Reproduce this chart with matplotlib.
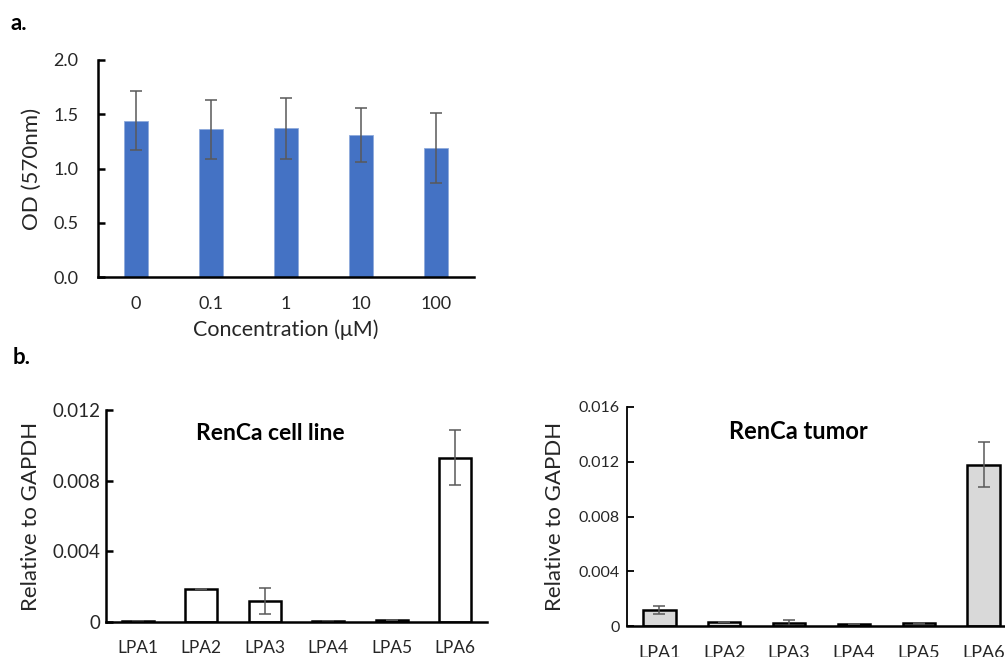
import matplotlib
matplotlib.use("Agg")
import matplotlib.pyplot as plt
import numpy as np

plt.rcParams['font.family'] = ['Lato', 'DejaVu Sans']

# Panel a data
conc_labels = ["0", "0.1", "1", "10", "100"]
od_values = [1.44, 1.36, 1.37, 1.31, 1.19]
od_errors = [0.27, 0.27, 0.28, 0.25, 0.32]

# Panel b data
lpa_labels = ["LPA1", "LPA2", "LPA3", "LPA4", "LPA5", "LPA6"]
cell_values = [0.00005, 0.00188, 0.00119, 0.00003, 0.0001, 0.0093]
cell_errors = [0.0, 0.0, 0.00075, 0.0, 0.0, 0.00154]
tumor_values = [0.00115, 0.00029, 0.00022, 0.00012, 0.0002, 0.01177]
tumor_errors = [0.0003, 0.0, 0.00025, 0.0, 0.00005, 0.00165]

W, H = 1005, 657
fig = plt.figure(figsize=(W / 100, H / 100), dpi=100)
TXT = '#262626'

def ax_px(left, right, top, bottom):
    return fig.add_axes([left / W, 1 - bottom / H, (right - left) / W, (bottom - top) / H])

def style(ax, lw):
    for s in ['top', 'right']:
        ax.spines[s].set_visible(False)
    for s in ['left', 'bottom']:
        ax.spines[s].set_linewidth(lw)
        ax.spines[s].set_color('black')
    ax.tick_params(axis='y', direction='in', length=5, width=lw)
    ax.tick_params(axis='x', length=0)

err_kw = dict(ecolor='#595959', elinewidth=1.1, capsize=4, capthick=1.1)

# ---- Panel a ----
axa = ax_px(98, 474, 60, 277)
x = np.arange(len(conc_labels))
axa.bar(x, od_values, width=0.32, color='#4472C4', edgecolor='#8faadc', linewidth=0.6,
        yerr=od_errors, error_kw=err_kw)
axa.set_xlim(-0.5, 4.5)
axa.set_ylim(0, 2.0)
axa.set_yticks([0.0, 0.5, 1.0, 1.5, 2.0])
axa.set_yticklabels(["0.0", "0.5", "1.0", "1.5", "2.0"], fontsize=13, color=TXT)
axa.set_xticks(x)
axa.set_xticklabels(conc_labels, fontsize=13, color=TXT)
style(axa, 1.8)
axa.tick_params(axis='x', pad=14)
axa.tick_params(axis='y', pad=14)
axa.set_xlabel("Concentration (\u03bcM)", fontsize=15.5, color=TXT, labelpad=5)
axa.set_ylabel("OD (570nm)", fontsize=16, color=TXT, labelpad=8)

# ---- Panel b left ----
axb1 = ax_px(106, 487, 410, 622)
x6 = np.arange(len(lpa_labels))
axb1.bar(x6, cell_values, width=0.5, color='white', edgecolor='black', linewidth=1.8,
         yerr=cell_errors, error_kw=err_kw)
axb1.set_xlim(-0.5, 5.5)
axb1.set_ylim(0, 0.012)
axb1.set_yticks([0, 0.004, 0.008, 0.012])
axb1.set_yticklabels(["0", "0.004", "0.008", "0.012"], fontsize=13.5, color=TXT)
axb1.set_xticks(x6)
axb1.set_xticklabels(lpa_labels, fontsize=12.5, color=TXT)
style(axb1, 1.8)
axb1.tick_params(axis='x', pad=13)
axb1.tick_params(axis='y', pad=4)
axb1.set_ylabel("Relative to GAPDH", fontsize=16, color=TXT, labelpad=8)
axb1.text(0.43, 0.89, "RenCa cell line", transform=axb1.transAxes, fontsize=16.5,
          fontweight='bold', ha='center', va='center')

# ---- Panel b right ----
axb2 = ax_px(627, 1016, 407, 626)
axb2.bar(x6, tumor_values, width=0.5, color='#d9d9d9', edgecolor='black', linewidth=1.8,
         yerr=tumor_errors, error_kw=err_kw)
axb2.set_xlim(-0.5, 5.5)
axb2.set_ylim(0, 0.016)
axb2.set_yticks([0, 0.004, 0.008, 0.012, 0.016])
axb2.set_yticklabels(["0", "0.004", "0.008", "0.012", "0.016"], fontsize=11.5, color=TXT)
axb2.set_xticks(x6)
axb2.set_xticklabels(lpa_labels, fontsize=13, color=TXT)
style(axb2, 1.3)
axb2.spines['bottom'].set_linewidth(1.8)
axb2.tick_params(axis='x', pad=14)
axb2.tick_params(axis='y', pad=5)
axb2.set_ylabel("Relative to GAPDH", fontsize=16, color=TXT, labelpad=10)
axb2.text(0.44, 0.89, "RenCa tumor", transform=axb2.transAxes, fontsize=17,
          fontweight='bold', ha='center', va='center')

fig.text(10 / W, 1 - 24 / H, "a.", fontsize=16, fontweight='bold', va='center')
fig.text(13 / W, 1 - 357 / H, "b.", fontsize=16, fontweight='bold', va='center')

fig.savefig("out.png", dpi=100)
